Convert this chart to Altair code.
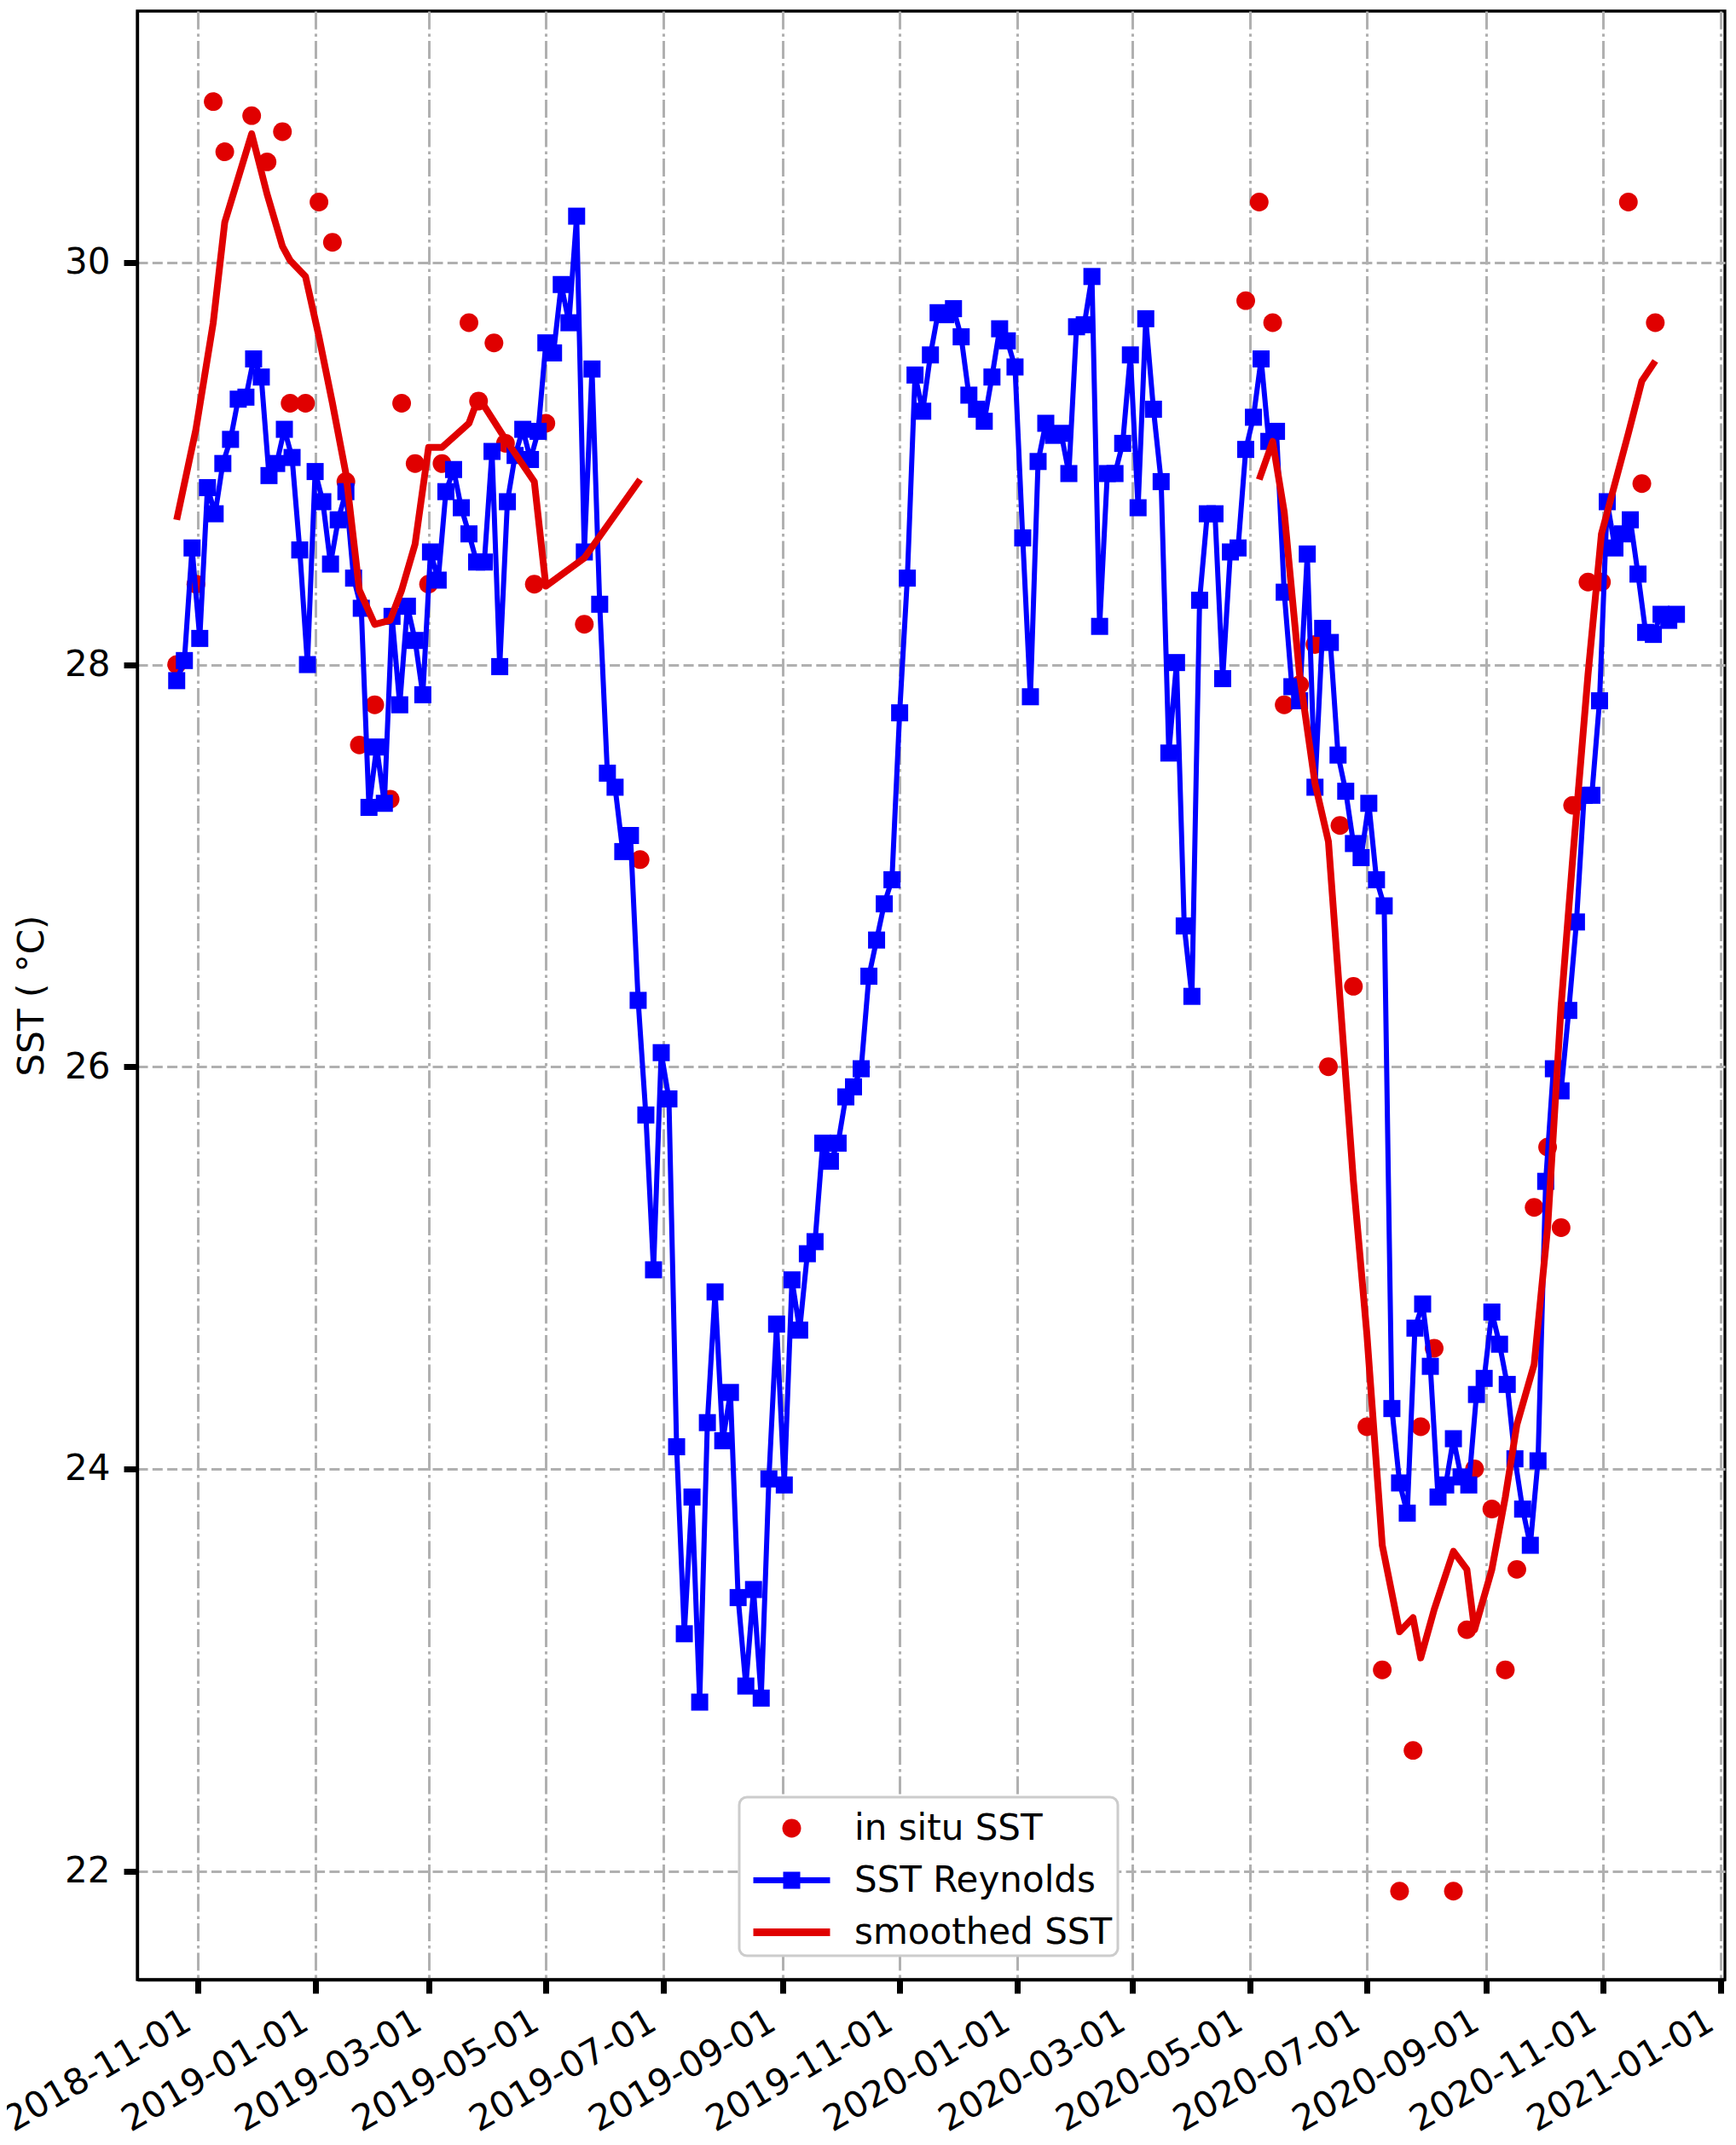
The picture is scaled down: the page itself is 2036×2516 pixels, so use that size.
import altair as alt
import pandas as pd

# ---------------- data ----------------
sat_start = "2018-10-21"
sat_step = "4D"
sat_values = [
    27.92, 28.02, 28.58, 28.13, 28.88, 28.75, 29.00, 29.12, 29.32, 29.33,
    29.52, 29.43, 28.94, 29.00, 29.17, 29.03, 28.57, 28.00, 28.96, 28.81,
    28.50, 28.72, 28.86, 28.43, 28.28, 27.29, 27.59, 27.31, 28.24, 27.80,
    28.29, 28.12, 27.85, 28.56, 28.42, 28.86, 28.97, 28.78, 28.65, 28.51,
    28.51, 29.06, 27.99, 28.81, 29.04, 29.17, 29.02, 29.16, 29.60, 29.55,
    29.89, 29.70, 30.23, 28.56, 29.47, 28.30, 27.46, 27.39, 27.07, 27.15,
    26.33, 25.76, 24.99, 26.07, 25.84, 24.11, 23.18, 23.86, 22.84, 24.23,
    24.88, 24.14, 24.38, 23.36, 22.92, 23.40, 22.86, 23.95, 24.72, 23.92,
    24.94, 24.69, 25.07, 25.13, 25.62, 25.53, 25.62, 25.85, 25.90, 25.99,
    26.45, 26.63, 26.81, 26.93, 27.76, 28.43, 29.44, 29.26, 29.54, 29.75,
    29.74, 29.77, 29.63, 29.34, 29.27, 29.21, 29.43, 29.67, 29.61, 29.48,
    28.63, 27.84, 29.01, 29.20, 29.14, 29.15, 28.95, 29.68, 29.69, 29.93,
    28.19, 28.95, 28.95, 29.10, 29.54, 28.78, 29.72, 29.27, 28.91, 27.56,
    28.01, 26.70, 26.35, 28.32, 28.75, 28.75, 27.93, 28.56, 28.58, 29.07,
    29.23, 29.52, 29.11, 29.16, 28.36, 27.89, 27.82, 28.55, 27.39, 28.18,
    28.11, 27.55, 27.37, 27.11, 27.04, 27.31, 26.93, 26.80, 24.30, 23.93,
    23.78, 24.70, 24.82, 24.51, 23.86, 23.92, 24.15, 23.96, 23.92, 24.37,
    24.45, 24.78, 24.62, 24.42, 24.05, 23.80, 23.62, 24.04, 25.43, 25.99,
    25.88, 26.28, 26.72, 27.35, 27.35, 27.82, 28.81, 28.58, 28.65, 28.72,
    28.45, 28.16, 28.15, 28.25, 28.22, 28.25,
]

insitu_dates = [
    "2018-10-21", "2018-10-31", "2018-11-09", "2018-11-15", "2018-11-29",
    "2018-12-07", "2018-12-15", "2018-12-19", "2018-12-27", "2019-01-03",
    "2019-01-10", "2019-01-17", "2019-01-24", "2019-02-01", "2019-02-09",
    "2019-02-15", "2019-02-22", "2019-03-01", "2019-03-08", "2019-03-22",
    "2019-03-27", "2019-04-04", "2019-04-10", "2019-04-25", "2019-05-01",
    "2019-05-21", "2019-06-19",
    "2020-04-29", "2020-05-06", "2020-05-13", "2020-05-19", "2020-05-27",
    "2020-06-04", "2020-06-11", "2020-06-17", "2020-06-24", "2020-07-01",
    "2020-07-09", "2020-07-18", "2020-07-25", "2020-07-29", "2020-08-05",
    "2020-08-15", "2020-08-22", "2020-08-26", "2020-09-04", "2020-09-11",
    "2020-09-17", "2020-09-26", "2020-10-03", "2020-10-10", "2020-10-16",
    "2020-10-24", "2020-10-31", "2020-11-14", "2020-11-21", "2020-11-28",
]
insitu_values = [
    28.00, 28.40, 30.80, 30.55, 30.73, 30.50, 30.65, 29.30, 29.30, 30.30,
    30.10, 28.91, 27.60, 27.80, 27.33, 29.30, 29.00, 28.40, 29.00, 29.70,
    29.31, 29.60, 29.10, 28.40, 29.20, 28.20, 27.03,
    29.81, 30.30, 29.70, 27.80, 27.90, 28.10, 26.00, 27.20, 26.40, 24.21,
    23.00, 21.90, 22.60, 24.21, 24.60, 21.90, 23.20, 24.00, 23.80, 23.00,
    23.50, 25.30, 25.60, 25.20, 27.30, 28.41, 28.41, 30.30, 28.90, 29.70,
]

smooth1_dates = [
    "2018-10-21", "2018-10-31", "2018-11-09", "2018-11-15", "2018-11-29",
    "2018-12-07", "2018-12-15", "2018-12-19", "2018-12-27", "2019-01-03",
    "2019-01-10", "2019-01-17", "2019-01-24", "2019-02-01", "2019-02-09",
    "2019-02-15", "2019-02-22", "2019-03-01", "2019-03-08", "2019-03-22",
    "2019-03-27", "2019-04-04", "2019-04-10", "2019-04-25", "2019-05-01",
    "2019-05-21", "2019-06-19",
]
smooth1_values = [
    28.72, 29.17, 29.70, 30.20, 30.64, 30.34, 30.08, 30.01, 29.93, 29.63,
    29.30, 28.95, 28.37, 28.20, 28.22, 28.37, 28.60, 29.08, 29.08, 29.20,
    29.33, 29.21, 29.12, 28.91, 28.39, 28.53, 28.92,
]
smooth2_dates = [
    "2020-05-06", "2020-05-13", "2020-05-19", "2020-05-27", "2020-06-04",
    "2020-06-11", "2020-06-17", "2020-06-24", "2020-07-01", "2020-07-09",
    "2020-07-18", "2020-07-25", "2020-07-29", "2020-08-05", "2020-08-15",
    "2020-08-22", "2020-08-26", "2020-09-04", "2020-09-11", "2020-09-17",
    "2020-09-26", "2020-10-03", "2020-10-10", "2020-10-16", "2020-10-24",
    "2020-10-31", "2020-11-14", "2020-11-21", "2020-11-28",
]
smooth2_values = [
    28.92, 29.11, 28.76, 27.95, 27.41, 27.12, 26.34, 25.43, 24.67, 23.62,
    23.19, 23.26, 23.06, 23.30, 23.59, 23.50, 23.20, 23.50, 23.86, 24.22,
    24.52, 25.20, 26.30, 27.03, 27.95, 28.65, 29.15, 29.41, 29.51,
]

x_tick_dates = [
    "2018-11-01", "2019-01-01", "2019-03-01", "2019-05-01", "2019-07-01",
    "2019-09-01", "2019-11-01", "2020-01-01", "2020-03-01", "2020-05-01",
    "2020-07-01", "2020-09-01", "2020-11-01", "2021-01-01",
]
y_ticks = [22, 24, 26, 28, 30]

series_names = ["in situ SST", "SST Reynolds", "smoothed SST"]
series_colors = ["#e00000", "#0000ff", "#e00000"]
# legend / marker glyphs (unit box -1..1)
series_shapes = [
    "M-0.36,0A0.36,0.36,0,1,0,0.36,0A0.36,0.36,0,1,0,-0.36,0Z",
    "M-1.475,-0.115H1.475V0.115H-1.475Z M-0.328,-0.328H0.328V0.328H-0.328Z",
    "M-1.475,-0.148H1.475V0.148H-1.475Z",
]

# ---------------- tables ----------------
sat_dates = pd.date_range(sat_start, periods=len(sat_values), freq=sat_step).strftime("%Y-%m-%d")
sat_df = pd.DataFrame({"date": list(sat_dates), "sst": sat_values})
insitu_df = pd.DataFrame({"date": insitu_dates, "sst": insitu_values, "series": "in situ SST"})
smooth_df = pd.concat(
    [
        pd.DataFrame({"date": smooth1_dates, "sst": smooth1_values, "seg": 1}),
        pd.DataFrame({"date": smooth2_dates, "sst": smooth2_values, "seg": 2}),
    ],
    ignore_index=True,
)


def dt(s, hours=0):
    y, m, d = (int(p) for p in s.split("-"))
    return alt.DateTime(year=y, month=m, date=d, hours=hours, utc=True)


FONT = "DejaVu Sans"
FS = 42
GRID = "#b0b0b0"

x_enc = alt.X(
    "date:T",
    scale=alt.Scale(type="utc", domain=[dt("2018-09-30", 12), dt("2021-01-03", 5)]),
    axis=alt.Axis(
        values=[dt(s) for s in x_tick_dates],
        labelExpr="utcFormat(datum.value, '%Y-%m-%d')",
        title=None,
        labelAngle=-30,
        labelAlign="right",
        labelBaseline="top",
        labelPadding=12,
        labelOffset=-22,
        labelOverlap=False,
        labelBound=False,
        labelFlush=False,
        labelLimit=1000,
        labelFont=FONT,
        labelFontSize=FS,
        labelColor="black",
        tickSize=16,
        tickWidth=7,
        tickColor="black",
        domainColor="black",
        domainWidth=3.3,
        grid=True,
        gridColor=GRID,
        gridWidth=3,
        gridDash=[21, 5, 3.5, 5],
        gridOpacity=1,
    ),
)
y_enc = alt.Y(
    "sst:Q",
    scale=alt.Scale(domain=[21.46, 31.25], nice=False, zero=False),
    axis=alt.Axis(
        values=y_ticks,
        format="d",
        title="SST ( °C)",
        titleFont=FONT,
        titleFontSize=FS,
        titleFontWeight="normal",
        titleColor="black",
        titleX=-124,
        titleAngle=-90,
        titleBaseline="middle",
        titleAlign="center",
        labelFont=FONT,
        labelFontSize=FS,
        labelColor="black",
        labelPadding=16,
        tickSize=16,
        tickWidth=7,
        tickColor="black",
        domainColor="black",
        domainWidth=3.3,
        grid=True,
        gridColor=GRID,
        gridWidth=3,
        gridDash=[12, 5.3],
        gridOpacity=1,
    ),
)

legend = alt.Legend(
    title=None,
    orient="none",
    legendX=706,
    legendY=2095,
    direction="vertical",
    symbolSize=3721,
    symbolStrokeWidth=0,
    symbolOffset=25,
    labelOffset=43,
    labelFont=FONT,
    labelFontSize=FS,
    labelColor="black",
    labelLimit=1000,
    padding=6,
    rowPadding=9,
    fillColor="white",
    strokeColor="#cccccc",
    cornerRadius=9,
)

dots = alt.Chart(insitu_df).mark_point(filled=True, opacity=1, size=3721, strokeWidth=0).encode(
    x=x_enc,
    y=y_enc,
    color=alt.Color("series:N", scale=alt.Scale(domain=series_names, range=series_colors), legend=legend),
    shape=alt.Shape("series:N", scale=alt.Scale(domain=series_names, range=series_shapes), legend=legend),
)

sat = alt.Chart(sat_df).mark_line(
    color="#0000ff",
    strokeWidth=6,
    strokeJoin="round",
    point=alt.OverlayMarkDef(shape="square", size=400, filled=True, color="#0000ff", opacity=1, strokeWidth=0),
).encode(x=x_enc, y=y_enc)

smooth = alt.Chart(smooth_df).mark_line(color="#e00000", strokeWidth=8, strokeJoin="round").encode(
    x=x_enc, y=y_enc, detail="seg:N"
)

chart = (
    alt.layer(dots, sat, smooth)
    .properties(
        width=1862,
        height=2309,
        autosize=alt.AutoSizeParams(type="none"),
        padding={"left": 153, "top": 5, "right": 5, "bottom": 186},
    )
    .configure_view(stroke="black", strokeWidth=3.3)
    .configure_legend(strokeWidth=3)
)

chart.save("out.html", embed_options={"renderer": "svg", "actions": False})
